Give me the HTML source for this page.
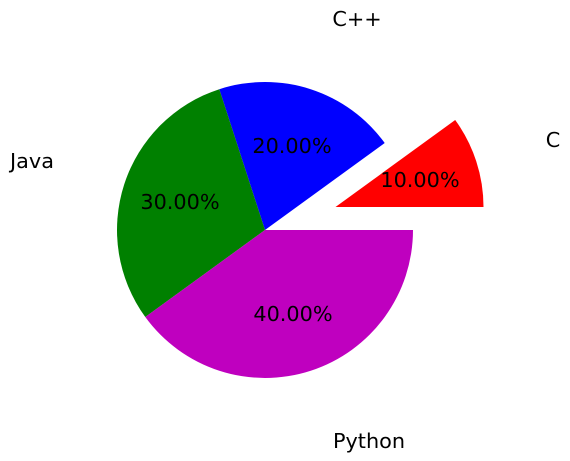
<!DOCTYPE html>
<html><head><meta charset="utf-8"><style>
html,body{margin:0;padding:0;background:#fff;width:570px;height:461px;overflow:hidden}
text{font-family:"DejaVu Sans","Liberation Sans",sans-serif;font-size:20.8px;fill:#000}
</style></head><body>
<svg width="570" height="461" viewBox="0 0 570 461" xmlns="http://www.w3.org/2000/svg">
<path d="M335.5,207 L483.5,207 A148,148 0 0 0 455.2,120 Z" fill="#ff0000"/>
<path d="M265,230 L384.7,143 A148,148 0 0 0 219.3,89.2 Z" fill="#0000ff"/>
<path d="M265,230 L219.3,89.2 A148,148 0 0 0 145.3,317 Z" fill="#008000"/>
<path d="M265,230 L145.3,317 A148,148 0 0 0 413,230 Z" fill="#bf00bf"/>
<g text-anchor="middle" dominant-baseline="central">
<text x="357" y="19">C++</text>
<text x="32" y="161">Java</text>
<text x="553" y="140">C</text>
<text x="369" y="441">Python</text>
<text x="292" y="146">20.00%</text>
<text x="420" y="180">10.00%</text>
<text x="180" y="202">30.00%</text>
<text x="293" y="314">40.00%</text>
</g>
</svg>
</body></html>
